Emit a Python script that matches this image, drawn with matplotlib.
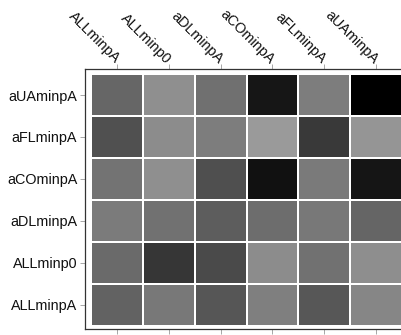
import matplotlib
matplotlib.use("Agg")
import matplotlib.pyplot as plt
import numpy as np

plt.rcParams['font.family'] = ['Liberation Sans', 'DejaVu Sans']

x_labels = ["ALLminpA", "ALLminp0", "aDLminpA", "aCOminpA", "aFLminpA", "aUAminpA"]
y_labels = ["ALLminpA", "ALLminp0", "aDLminpA", "aCOminpA", "aFLminpA", "aUAminpA"]

# gray level (0 = black, 255 = white) per cell, rows bottom -> top
row_ALLminpA = [98, 120, 86, 127, 87, 134]
row_ALLminp0 = [106, 54, 74, 140, 113, 142]
row_aDLminpA = [123, 113, 93, 109, 120, 101]
row_aCOminpA = [115, 143, 79, 17, 122, 21]
row_aFLminpA = [80, 140, 125, 154, 57, 149]
row_aUAminpA = [102, 143, 112, 22, 125, 0]

values = np.array([row_ALLminpA, row_ALLminp0, row_aDLminpA,
                   row_aCOminpA, row_aFLminpA, row_aUAminpA], dtype=float)

W, H = 401, 335
fig = plt.figure(figsize=(W / 100, H / 100), dpi=100)
left, right, top, bottom = 85, 408, 69, 329
ax = fig.add_axes([left / W, (H - bottom) / H, (right - left) / W, (bottom - top) / H])

n = len(x_labels)
xe = np.arange(n + 1) + 0.5
ye = np.arange(n + 1) + 0.5
ax.pcolormesh(xe, ye, values, cmap='gray', vmin=0, vmax=255,
              edgecolor='white', linewidth=1.3)

ax.set_xlim(0.5 - 0.125, n + 0.5 + 0.125)
ax.set_ylim(0.5 - 0.08, n + 0.5 + 0.12)

fs = 10.4
ax.set_xticks(np.arange(1, n + 1))
ax.set_yticks(np.arange(1, n + 1))
ax.xaxis.set_ticks_position('both')
ax.tick_params(axis='x', top=True, bottom=True, labeltop=True, labelbottom=False,
               length=3.5, width=0.6, color='#999999', pad=2)
ax.tick_params(axis='y', length=3.5, width=0.6, color='#999999', pad=2)
ax.set_xticklabels(x_labels, rotation=-45, ha='right', va='center',
                   rotation_mode='anchor', fontsize=fs, color='#111111')
ax.set_yticklabels(y_labels, fontsize=fs, color='#111111')

for s in ax.spines.values():
    s.set_color('#333333')
    s.set_linewidth(0.9)

fig.savefig('out.png', dpi=100)
